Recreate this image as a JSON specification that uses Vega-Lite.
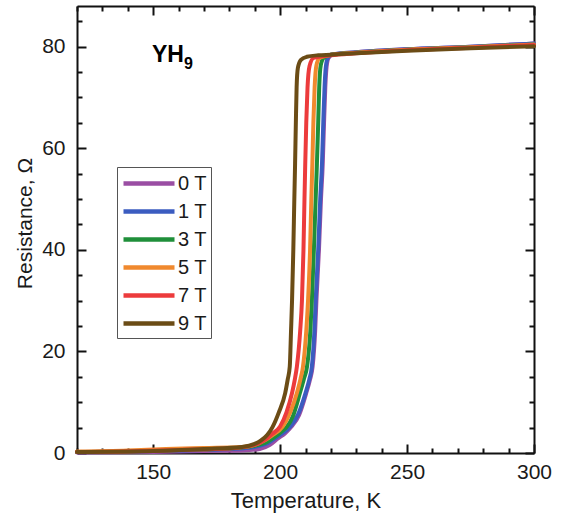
{
  "$schema": "https://vega.github.io/schema/vega-lite/v6.json",
  "autosize": "none",
  "width": 457,
  "height": 447,
  "padding": {"left": 77, "top": 6, "right": 31, "bottom": 62},
  "background": "white",
  "config": {
    "view": {"stroke": null},
    "axis": {
      "grid": false,
      "domainColor": "#111",
      "domainWidth": 2,
      "tickColor": "#111",
      "tickWidth": 2,
      "labelFont": "Liberation Sans",
      "labelFontSize": 21,
      "labelColor": "#1a1a1a",
      "titleFont": "Liberation Sans",
      "titleFontSize": 21,
      "titleFontWeight": "normal",
      "titleColor": "#1a1a1a"
    }
  },
  "layer": [
    {
      "data": {
        "values": [
          {"B": "0 T", "T": 120, "R": 0.1}, {"B": "0 T", "T": 150, "R": 0.2}, {"B": "0 T", "T": 170, "R": 0.4}, {"B": "0 T", "T": 185, "R": 0.5}, {"B": "0 T", "T": 192, "R": 0.8}, {"B": "0 T", "T": 196, "R": 1.6}, {"B": "0 T", "T": 199, "R": 2.8}, {"B": "0 T", "T": 202, "R": 3.9}, {"B": "0 T", "T": 204.5, "R": 5.2}, {"B": "0 T", "T": 207.5, "R": 7.5}, {"B": "0 T", "T": 210.3, "R": 11.8}, {"B": "0 T", "T": 211.8, "R": 14.5}, {"B": "0 T", "T": 212.8, "R": 17}, {"B": "0 T", "T": 213.8, "R": 24}, {"B": "0 T", "T": 214.3, "R": 30}, {"B": "0 T", "T": 215.3, "R": 40}, {"B": "0 T", "T": 216.1, "R": 50}, {"B": "0 T", "T": 216.8, "R": 57}, {"B": "0 T", "T": 217.3, "R": 65}, {"B": "0 T", "T": 217.8, "R": 72}, {"B": "0 T", "T": 218.3, "R": 76}, {"B": "0 T", "T": 219.1, "R": 77.8}, {"B": "0 T", "T": 221, "R": 78.5}, {"B": "0 T", "T": 230, "R": 78.9}, {"B": "0 T", "T": 250, "R": 79.5}, {"B": "0 T", "T": 275, "R": 80.0}, {"B": "0 T", "T": 300, "R": 80.6},

          {"B": "1 T", "T": 120, "R": 0.2}, {"B": "1 T", "T": 140, "R": 0.3}, {"B": "1 T", "T": 160, "R": 0.5}, {"B": "1 T", "T": 180, "R": 0.8}, {"B": "1 T", "T": 190, "R": 1.2}, {"B": "1 T", "T": 195, "R": 1.9}, {"B": "1 T", "T": 198, "R": 2.9}, {"B": "1 T", "T": 201, "R": 3.9}, {"B": "1 T", "T": 204, "R": 5.2}, {"B": "1 T", "T": 207, "R": 7.5}, {"B": "1 T", "T": 210, "R": 11.8}, {"B": "1 T", "T": 211.5, "R": 14.5}, {"B": "1 T", "T": 212.5, "R": 17}, {"B": "1 T", "T": 213.5, "R": 24}, {"B": "1 T", "T": 214, "R": 30}, {"B": "1 T", "T": 215, "R": 40}, {"B": "1 T", "T": 215.8, "R": 50}, {"B": "1 T", "T": 216.5, "R": 57}, {"B": "1 T", "T": 217, "R": 65}, {"B": "1 T", "T": 217.5, "R": 72}, {"B": "1 T", "T": 218, "R": 76}, {"B": "1 T", "T": 218.8, "R": 77.8}, {"B": "1 T", "T": 220.5, "R": 78.5}, {"B": "1 T", "T": 230, "R": 78.9}, {"B": "1 T", "T": 250, "R": 79.5}, {"B": "1 T", "T": 275, "R": 80.0}, {"B": "1 T", "T": 300, "R": 80.6},

          {"B": "3 T", "T": 120, "R": 0.2}, {"B": "3 T", "T": 140, "R": 0.3}, {"B": "3 T", "T": 160, "R": 0.6}, {"B": "3 T", "T": 180, "R": 0.9}, {"B": "3 T", "T": 190, "R": 1.4}, {"B": "3 T", "T": 195, "R": 2.2}, {"B": "3 T", "T": 198, "R": 3.2}, {"B": "3 T", "T": 200.5, "R": 4.2}, {"B": "3 T", "T": 202.7, "R": 5.2}, {"B": "3 T", "T": 205, "R": 7.2}, {"B": "3 T", "T": 207.8, "R": 11.8}, {"B": "3 T", "T": 209.5, "R": 14.8}, {"B": "3 T", "T": 210.6, "R": 17}, {"B": "3 T", "T": 211.9, "R": 24}, {"B": "3 T", "T": 212.5, "R": 30}, {"B": "3 T", "T": 213.3, "R": 40}, {"B": "3 T", "T": 214, "R": 50}, {"B": "3 T", "T": 214.5, "R": 57}, {"B": "3 T", "T": 215, "R": 65}, {"B": "3 T", "T": 215.4, "R": 72}, {"B": "3 T", "T": 216, "R": 76.3}, {"B": "3 T", "T": 217.2, "R": 77.8}, {"B": "3 T", "T": 220, "R": 78.4}, {"B": "3 T", "T": 230, "R": 78.8}, {"B": "3 T", "T": 250, "R": 79.4}, {"B": "3 T", "T": 275, "R": 79.9}, {"B": "3 T", "T": 300, "R": 80.4},

          {"B": "5 T", "T": 120, "R": 0.3}, {"B": "5 T", "T": 140, "R": 0.5}, {"B": "5 T", "T": 155, "R": 0.8}, {"B": "5 T", "T": 170, "R": 1.0}, {"B": "5 T", "T": 185, "R": 1.2}, {"B": "5 T", "T": 190, "R": 1.6}, {"B": "5 T", "T": 194, "R": 2.5}, {"B": "5 T", "T": 197, "R": 3.5}, {"B": "5 T", "T": 201, "R": 5.2}, {"B": "5 T", "T": 204, "R": 8}, {"B": "5 T", "T": 206.6, "R": 11.8}, {"B": "5 T", "T": 208, "R": 14.5}, {"B": "5 T", "T": 209, "R": 17}, {"B": "5 T", "T": 210.3, "R": 24}, {"B": "5 T", "T": 211, "R": 30}, {"B": "5 T", "T": 211.8, "R": 40}, {"B": "5 T", "T": 212.3, "R": 50}, {"B": "5 T", "T": 212.7, "R": 57}, {"B": "5 T", "T": 213.1, "R": 65}, {"B": "5 T", "T": 213.6, "R": 72}, {"B": "5 T", "T": 214.3, "R": 76.3}, {"B": "5 T", "T": 215.6, "R": 77.8}, {"B": "5 T", "T": 220, "R": 78.4}, {"B": "5 T", "T": 230, "R": 78.8}, {"B": "5 T", "T": 250, "R": 79.4}, {"B": "5 T", "T": 275, "R": 79.9}, {"B": "5 T", "T": 300, "R": 80.4},

          {"B": "7 T", "T": 120, "R": 0.2}, {"B": "7 T", "T": 140, "R": 0.3}, {"B": "7 T", "T": 160, "R": 0.6}, {"B": "7 T", "T": 180, "R": 0.9}, {"B": "7 T", "T": 190, "R": 1.6}, {"B": "7 T", "T": 194, "R": 2.6}, {"B": "7 T", "T": 197, "R": 3.8}, {"B": "7 T", "T": 200, "R": 5.2}, {"B": "7 T", "T": 202.5, "R": 8}, {"B": "7 T", "T": 204.7, "R": 11.8}, {"B": "7 T", "T": 205.8, "R": 14.5}, {"B": "7 T", "T": 206.6, "R": 17}, {"B": "7 T", "T": 207.9, "R": 24}, {"B": "7 T", "T": 208.6, "R": 30}, {"B": "7 T", "T": 209.2, "R": 40}, {"B": "7 T", "T": 209.6, "R": 50}, {"B": "7 T", "T": 209.9, "R": 57}, {"B": "7 T", "T": 210.3, "R": 65}, {"B": "7 T", "T": 210.8, "R": 72}, {"B": "7 T", "T": 211.6, "R": 76.2}, {"B": "7 T", "T": 213.2, "R": 77.8}, {"B": "7 T", "T": 220, "R": 78.3}, {"B": "7 T", "T": 230, "R": 78.7}, {"B": "7 T", "T": 250, "R": 79.3}, {"B": "7 T", "T": 275, "R": 79.8}, {"B": "7 T", "T": 300, "R": 80.3},

          {"B": "9 T", "T": 120, "R": 0.2}, {"B": "9 T", "T": 150, "R": 0.4}, {"B": "9 T", "T": 170, "R": 0.8}, {"B": "9 T", "T": 185, "R": 1.2}, {"B": "9 T", "T": 190, "R": 1.8}, {"B": "9 T", "T": 192.5, "R": 2.5}, {"B": "9 T", "T": 195, "R": 3.6}, {"B": "9 T", "T": 197, "R": 5.1}, {"B": "9 T", "T": 199.5, "R": 8}, {"B": "9 T", "T": 202, "R": 11.8}, {"B": "9 T", "T": 203, "R": 14.5}, {"B": "9 T", "T": 203.8, "R": 17}, {"B": "9 T", "T": 204.3, "R": 24}, {"B": "9 T", "T": 204.7, "R": 30}, {"B": "9 T", "T": 205.2, "R": 40}, {"B": "9 T", "T": 205.6, "R": 50}, {"B": "9 T", "T": 205.9, "R": 57}, {"B": "9 T", "T": 206.2, "R": 65}, {"B": "9 T", "T": 206.5, "R": 72}, {"B": "9 T", "T": 207, "R": 75.8}, {"B": "9 T", "T": 208.2, "R": 77.4}, {"B": "9 T", "T": 210.5, "R": 78.0}, {"B": "9 T", "T": 215, "R": 78.3}, {"B": "9 T", "T": 220, "R": 78.4}, {"B": "9 T", "T": 230, "R": 78.7}, {"B": "9 T", "T": 250, "R": 79.2}, {"B": "9 T", "T": 275, "R": 79.7}, {"B": "9 T", "T": 300, "R": 80.1}
        ]
      },
      "mark": {"type": "line", "strokeWidth": 4, "interpolate": "monotone", "strokeCap": "round"},
      "encoding": {
        "x": {
          "field": "T", "type": "quantitative",
          "scale": {"domain": [120, 300], "nice": false, "zero": false},
          "axis": {
            "orient": "bottom",
            "title": "Temperature, K",
            "titleFontSize": 22,
            "titlePadding": 4,
            "values": [120, 130, 140, 150, 160, 170, 180, 190, 200, 210, 220, 230, 240, 250, 260, 270, 280, 290, 300],
            "labelExpr": "datum.value % 50 === 0 ? datum.label : ''",
            "tickSize": {"condition": {"test": "datum.value % 50 === 0", "value": -9}, "value": -5},
            "labelPadding": 17,
            "labelFlush": false,
            "labelOverlap": false
          }
        },
        "y": {
          "field": "R", "type": "quantitative",
          "scale": {"domain": [0, 88], "nice": false},
          "axis": {
            "orient": "left",
            "title": "Resistance, Ω",
            "titlePadding": 6,
            "titleY": 217,
            "values": [0, 5, 10, 15, 20, 25, 30, 35, 40, 45, 50, 55, 60, 65, 70, 75, 80, 85],
            "labelExpr": "datum.value % 20 === 0 ? datum.label : ''",
            "tickSize": {"condition": {"test": "datum.value % 20 === 0", "value": -9}, "value": -5},
            "labelPadding": 21,
            "labelOverlap": false
          }
        },
        "color": {
          "field": "B", "type": "nominal",
          "scale": {
            "domain": ["0 T", "1 T", "3 T", "5 T", "7 T", "9 T"],
            "range": ["#9a4ea3", "#3b5cc0", "#1f8f3a", "#f0892e", "#ec3b3c", "#6b4c16"]
          },
          "legend": {
            "orient": "none",
            "legendX": 40,
            "legendY": 161,
            "title": null,
            "symbolType": "M-1,0H4.1",
            "symbolSize": 400,
            "symbolStrokeWidth": 4.5,
            "labelFont": "Liberation Sans",
            "labelFontSize": 20,
            "labelColor": "#1a1a1a",
            "labelOffset": 32,
            "rowPadding": 5,
            "padding": 4,
            "strokeColor": "#555",
            "fillColor": "white"
          }
        }
      }
    },
    {
      "data": {"values": [{"T": 149.5, "R": 77, "s": "YH"}]},
      "mark": {"type": "text", "align": "left", "baseline": "alphabetic", "font": "Liberation Sans", "fontWeight": "bold", "fontSize": 23, "color": "#000"},
      "encoding": {
        "x": {
          "field": "T", "type": "quantitative",
          "axis": {
            "orient": "top", "title": null, "labels": false,
            "values": [120, 130, 140, 150, 160, 170, 180, 190, 200, 210, 220, 230, 240, 250, 260, 270, 280, 290, 300],
            "tickSize": {"condition": {"test": "datum.value % 50 === 0", "value": -9}, "value": -5}
          }
        },
        "y": {
          "field": "R", "type": "quantitative",
          "axis": {
            "orient": "right", "title": null, "labels": false,
            "values": [0, 5, 10, 15, 20, 25, 30, 35, 40, 45, 50, 55, 60, 65, 70, 75, 80, 85],
            "tickSize": {"condition": {"test": "datum.value % 20 === 0", "value": -9}, "value": -5}
          }
        },
        "text": {"field": "s"}
      }
    },
    {
      "data": {"values": [{"T": 149.5, "R": 77, "s": "9"}]},
      "mark": {"type": "text", "align": "left", "baseline": "alphabetic", "font": "Liberation Sans", "fontWeight": "bold", "fontSize": 16, "dx": 32, "dy": 7, "color": "#000"},
      "encoding": {
        "x": {"field": "T", "type": "quantitative", "axis": null},
        "y": {"field": "R", "type": "quantitative", "axis": null},
        "text": {"field": "s"}
      }
    }
  ],
  "resolve": {"axis": {"x": "independent", "y": "independent"}}
}
